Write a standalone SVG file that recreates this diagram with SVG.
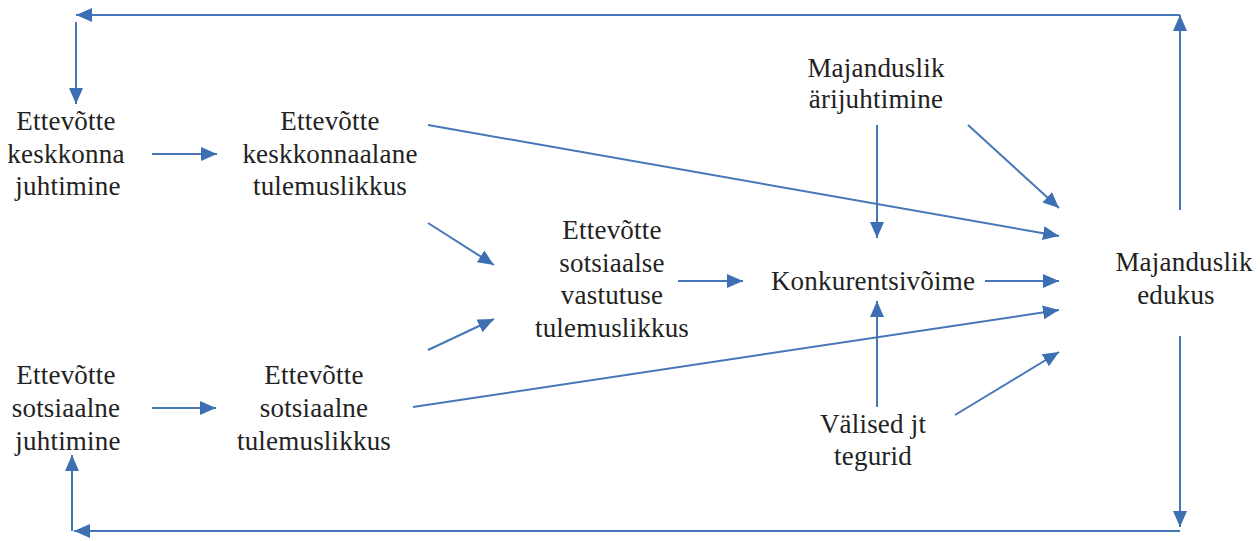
<svg xmlns="http://www.w3.org/2000/svg" width="1260" height="541" viewBox="0 0 1260 541">
<style>
  .t text { font-size: 27px; fill: #222; text-anchor: middle; letter-spacing: 0.2px; }
  .c { stroke: #4677b8; stroke-width: 2; fill: none; }
  .a { marker-end: url(#ah); }
</style>
<defs>
  <marker id="ah" markerUnits="userSpaceOnUse" markerWidth="17" markerHeight="15" refX="16" refY="7" orient="auto">
    <path d="M0,0 L16,7 L0,14 z" fill="#3d6fb3"/>
  </marker>
</defs>
<g id="connectors">
  <line class="c a" x1="1180" y1="210" x2="1180" y2="15"/>
  <line class="c a" x1="1180" y1="15" x2="76" y2="15"/>
  <line class="c a" x1="76" y1="22" x2="76" y2="104"/>
  <line class="c a" x1="1180" y1="336" x2="1180" y2="527"/>
  <line class="c a" x1="1180" y1="531" x2="74" y2="531"/>
  <line class="c a" x1="72" y1="531" x2="72" y2="455"/>
  <line class="c a" x1="152" y1="154" x2="217" y2="154"/>
  <line class="c a" x1="152" y1="408" x2="216" y2="408"/>
  <line class="c a" x1="428" y1="223" x2="494" y2="265"/>
  <line class="c a" x1="428" y1="350" x2="494" y2="319"/>
  <line class="c a" x1="678" y1="281" x2="743" y2="281"/>
  <line class="c a" x1="985" y1="281" x2="1059" y2="281"/>
  <line class="c a" x1="428" y1="125" x2="1059" y2="236"/>
  <line class="c a" x1="413" y1="407" x2="1059" y2="310"/>
  <line class="c a" x1="877" y1="125" x2="877" y2="238"/>
  <line class="c a" x1="968" y1="125" x2="1059" y2="208"/>
  <line class="c a" x1="877" y1="407" x2="877" y2="301"/>
  <line class="c a" x1="955" y1="415" x2="1059" y2="352"/>
</g>
<g class="t" font-family="Liberation Serif, Times New Roman, serif">
<g id="n1"><text x="66" y="130">Ettevõtte</text><text x="66" y="163">keskkonna</text><text x="68" y="195">juhtimine</text></g>
<g id="n2"><text x="330" y="130">Ettevõtte</text><text x="330" y="163">keskkonnaalane</text><text x="330" y="195">tulemuslikkus</text></g>
<g id="n3"><text x="66" y="384">Ettevõtte</text><text x="66" y="417">sotsiaalne</text><text x="68" y="450">juhtimine</text></g>
<g id="n4"><text x="314" y="384">Ettevõtte</text><text x="314" y="417">sotsiaalne</text><text x="314" y="450">tulemuslikkus</text></g>
<g id="n5"><text x="612" y="239">Ettevõtte</text><text x="612" y="272">sotsiaalse</text><text x="612" y="304">vastutuse</text><text x="612" y="337">tulemuslikkus</text></g>
<g id="n6"><text x="873" y="290">Konkurentsivõime</text></g>
<g id="n7"><text x="876" y="77">Majanduslik</text><text x="876" y="108">ärijuhtimine</text></g>
<g id="n8"><text x="873" y="433">Välised jt</text><text x="873" y="465">tegurid</text></g>
<g id="n9"><text x="1184" y="271">Majanduslik</text><text x="1176" y="304">edukus</text></g>
</g>
</svg>
